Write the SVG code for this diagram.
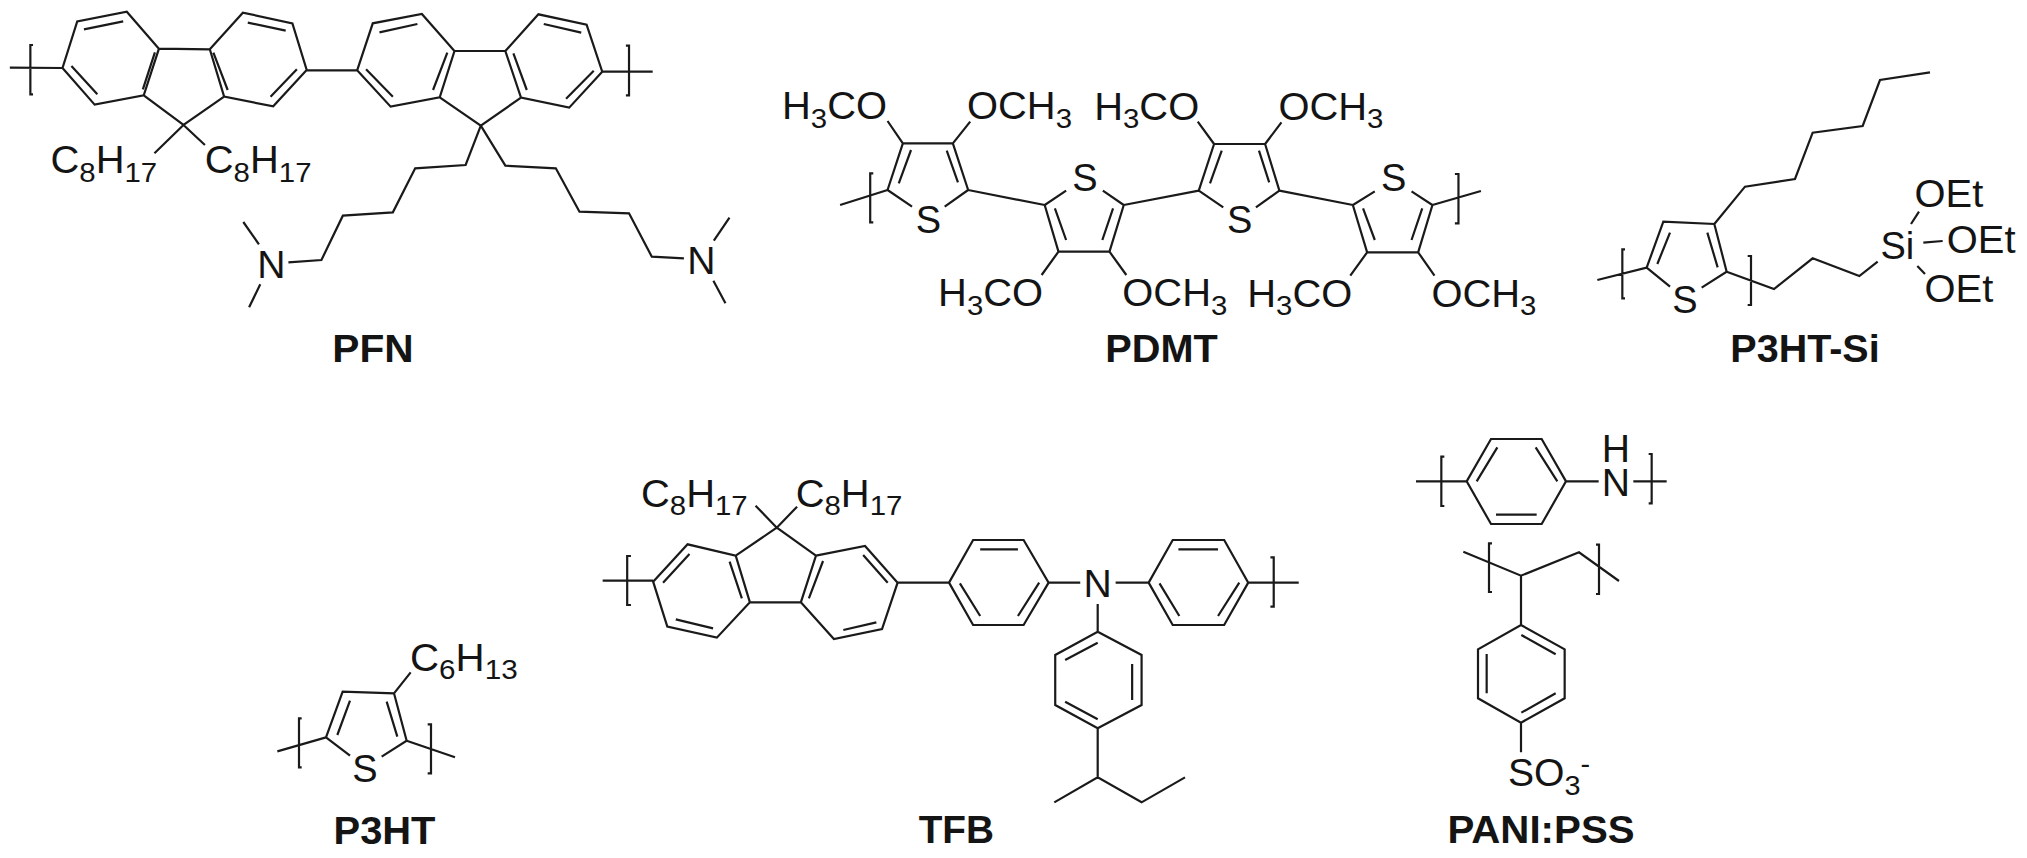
<svg xmlns="http://www.w3.org/2000/svg" width="2027" height="858" viewBox="0 0 2027 858">
<style>
.b{fill:none;stroke:#1a1a1a;stroke-width:2.2;stroke-linejoin:miter;stroke-linecap:butt;vector-effect:non-scaling-stroke}
text{font-family:"Liberation Sans",Arial,sans-serif;fill:#141414;font-size:38px}
.s{font-size:28px}
.m{text-anchor:middle}
.l{font-weight:bold;text-anchor:middle}
</style>
<rect width="2027" height="858" fill="#ffffff"/>
<g id="PFN">
<path class="b" transform="scale(0.44643 0.33333)" d="M140 204L173 64L284 35L356 146L322 286L212 314Z M188 88L276 64 M160 198L218 283 M347 157L320 268 M356 146L470 148 M322 286L411 375L502 290 M470 148L544 38L655 70L687 210L612 319L502 290Z M555 68L640 92 M665 208L606 290 M478 158L510 270 M687 211L800 211 M800 211L835 70L945 42L1018 153L985 292L875 320Z M850 97L935 72 M820 208L880 290 M1002 158L970 270 M1018 153L1132 153 M985 292L1077 377L1167 293 M1132 153L1206 43L1314 74L1349 215L1275 323L1167 293Z M1218 72L1302 98 M1330 212L1268 296 M1150 160L1180 270 M1349 215L1462 215 M22 203L140 204 M74 135L68 135L68 283L74 283 M1402 137L1409 137L1409 286L1402 286 M346 460L411 375L459 435 M1077 377L1043 495L930 505L880 637L768 647L720 780L646 787 M1077 377L1132 497L1245 505L1298 635L1409 640L1460 770L1532 775 M545 666L580 733 M583 853L558 922 M1599 722L1634 653 M1598 842L1625 910"/>
<text transform="translate(50.5 173.3) scale(1.05 1)">C<tspan class="s" dy="9">8</tspan><tspan dy="-9">H</tspan><tspan class="s" dy="9">17</tspan></text>
<text transform="translate(204.8 173.3) scale(1.05 1)">C<tspan class="s" dy="9">8</tspan><tspan dy="-9">H</tspan><tspan class="s" dy="9">17</tspan></text>
<text class="m" transform="translate(271.3 278.3) scale(1.03 1)">N</text>
<text class="m" transform="translate(701.3 274.3) scale(1.03 1)">N</text>
<text class="l" transform="translate(373 362) scale(1.07 1)">PFN</text>
</g>
<g id="PDMT">
<path class="b" transform="translate(760 60) scale(0.5102 0.33333)" d="M298 440L250 390L280 250L378 250L408 390L362 440 M272 370L296 270 M388 367L366 272 M157 435L250 390 M222 340L216 340L216 487L222 487 M250 183L280 250 M378 250L412 185 M408 390L558 435 M600 392L558 435L585 575L685 575L713 435L672 392 M578 445L600 540 M692 445L671 540 M552 645L585 575 M685 575L718 645 M713 435L860 392 M908 442L860 392L890 252L990 252L1018 392L972 442 M882 370L905 272 M998 367L978 272 M858 185L890 252 M990 252L1022 187 M1018 392L1162 435 M1205 394L1162 435L1190 577L1290 577L1318 435L1277 394 M1182 445L1205 540 M1298 445L1277 540 M1157 647L1190 577 M1290 577L1322 647 M1318 435L1413 393 M1362 342L1369 342L1369 490L1362 490"/>
<text transform="translate(782 119) scale(1.05 1)">H<tspan class="s" dy="8.5">3</tspan><tspan dy="-8.5">CO</tspan></text>
<text transform="translate(967 119) scale(1.05 1)">OCH<tspan class="s" dy="8.5">3</tspan></text>
<text transform="translate(1094.2 119.5) scale(1.05 1)">H<tspan class="s" dy="8.5">3</tspan><tspan dy="-8.5">CO</tspan></text>
<text transform="translate(1278.4 119.5) scale(1.05 1)">OCH<tspan class="s" dy="8.5">3</tspan></text>
<text transform="translate(938.1 306.2) scale(1.05 1)">H<tspan class="s" dy="8.5">3</tspan><tspan dy="-8.5">CO</tspan></text>
<text transform="translate(1122.3 306.2) scale(1.05 1)">OCH<tspan class="s" dy="8.5">3</tspan></text>
<text transform="translate(1247.3 306.8) scale(1.05 1)">H<tspan class="s" dy="8.5">3</tspan><tspan dy="-8.5">CO</tspan></text>
<text transform="translate(1431.4 306.8) scale(1.05 1)">OCH<tspan class="s" dy="8.5">3</tspan></text>
<text class="m" transform="translate(928.4 233.3)">S</text>
<text class="m" transform="translate(1085 191.2)">S</text>
<text class="m" transform="translate(1239.6 233.3)">S</text>
<text class="m" transform="translate(1393.7 191.2)">S</text>
<text class="l" transform="translate(1161.5 361.7) scale(1.045 1)">PDMT</text>
</g>
<g id="P3HT-Si">
<path class="b" transform="translate(1580 40) scale(0.33333)" d="M270 740L200 683L250 545L403 552L440 695L365 743 M232 672L270 578 M413 682L382 578 M52 720L200 683 M135 628L127 628L127 775L135 775 M503 648L513 648L513 795L503 795 M440 695L582 747L698 655L838 708L893 665 M403 552L495 440L645 417L698 278L848 258L900 120L1050 97 M993 552L1017 515 M1030 608L1088 603 M1012 678L1035 702"/>
<text transform="translate(1880.5 259.3)">Si</text>
<text transform="translate(1914.5 207.3) scale(1.05 1)">OEt</text>
<text transform="translate(1946.8 253.3) scale(1.05 1)">OEt</text>
<text transform="translate(1924.5 302.3) scale(1.05 1)">OEt</text>
<text class="m" transform="translate(1685 312.7)">S</text>
<text class="l" transform="translate(1805 362) scale(1.04 1)">P3HT-Si</text>
</g>
<g id="P3HT">
<path class="b" transform="translate(260 620) scale(0.33333)" d="M270 407L198 352L248 215L402 220L440 362L365 410 M232 345L270 242 M412 350L380 245 M52 394L198 352 M440 362L585 412 M125 295L117 295L117 442L125 442 M503 313L513 313L513 460L503 460 M402 220L452 157"/>
<text transform="translate(410 670.7) scale(1.06 1)">C<tspan class="s" dy="8">6</tspan><tspan dy="-8">H</tspan><tspan class="s" dy="8">13</tspan></text>
<text class="m" transform="translate(365 782.3)">S</text>
<text class="l" transform="translate(384.5 844) scale(1.05 1)">P3HT</text>
</g>
<g id="TFB">
<path class="b" transform="translate(580 460) scale(0.47192 0.33333)" d="M155 365L228 253L330 287L360 427L290 533L185 500Z M176 368L232 282 M317 305L343 415 M203 478L282 505 M330 287L417 203L500 287 M360 427L468 427 M500 287L604 258L673 368L640 507L538 537L468 427Z M515 303L485 415 M600 285L652 368 M558 510L628 487 M372 137L417 203L460 140 M48 362L155 362 M108 288L100 288L100 435L108 435 M673 368L782 368 M782 368L833 240L940 240L993 368L940 495L833 495Z M848 268L928 268 M805 370L848 468 M973 368L928 468 M993 368L1060 368 M1135 368L1205 368 M1097 432L1097 515 M1205 368L1256 240L1365 240L1416 368L1365 495L1256 495Z M1268 268L1352 268 M1228 370L1270 468 M1397 368L1352 468 M1416 368L1523 368 M1463 292L1470 292L1470 440L1463 440 M1097 515L1190 585L1190 735L1097 805L1007 735L1007 585Z M1028 600L1097 548 M1170 612L1170 720 M1028 725L1097 778 M1097 805L1097 952 M1005 1027L1097 952L1190 1027L1282 952"/>
<text transform="translate(641 507) scale(1.05 1)">C<tspan class="s" dy="8.3">8</tspan><tspan dy="-8.3">H</tspan><tspan class="s" dy="8.3">17</tspan></text>
<text transform="translate(795.7 507) scale(1.05 1)">C<tspan class="s" dy="8.3">8</tspan><tspan dy="-8.3">H</tspan><tspan class="s" dy="8.3">17</tspan></text>
<text class="m" transform="translate(1097.7 597) scale(1.03 1)">N</text>
<text class="l" transform="translate(956.3 843.3) scale(1.02 1)">TFB</text>
</g>
<g id="PANI-PSS">
<path class="b" transform="translate(1380 420) scale(0.33333)" d="M260 184L333 57L485 57L558 184L485 312L333 312Z M290 184L352 82 M467 82L532 184 M348 284L470 284 M108 184L260 184 M193 110L184 110L184 258L193 258 M558 184L656 184 M760 184L860 184 M806 102L815 102L815 250L806 250 M250 395L423 467L597 397L717 483 M336 370L327 370L327 516L336 516 M648 374L657 374L657 522L648 522 M423 467L423 615 M423 615L554 688L554 835L423 908L294 835L294 688Z M424 645L527 703 M320 702L320 820 M424 878L527 820 M423 908L423 997"/>
<text class="m" transform="translate(1616 461.7) scale(1.03 1)">H</text>
<text class="m" transform="translate(1616 496) scale(1.03 1)">N</text>
<text transform="translate(1508 786) scale(1.03 1)">SO<tspan class="s" dy="9">3</tspan><tspan class="s" dy="-22.5">-</tspan></text>
<text class="l" transform="translate(1541 843.3) scale(1.06 1)">PANI:PSS</text>
</g>
</svg>
